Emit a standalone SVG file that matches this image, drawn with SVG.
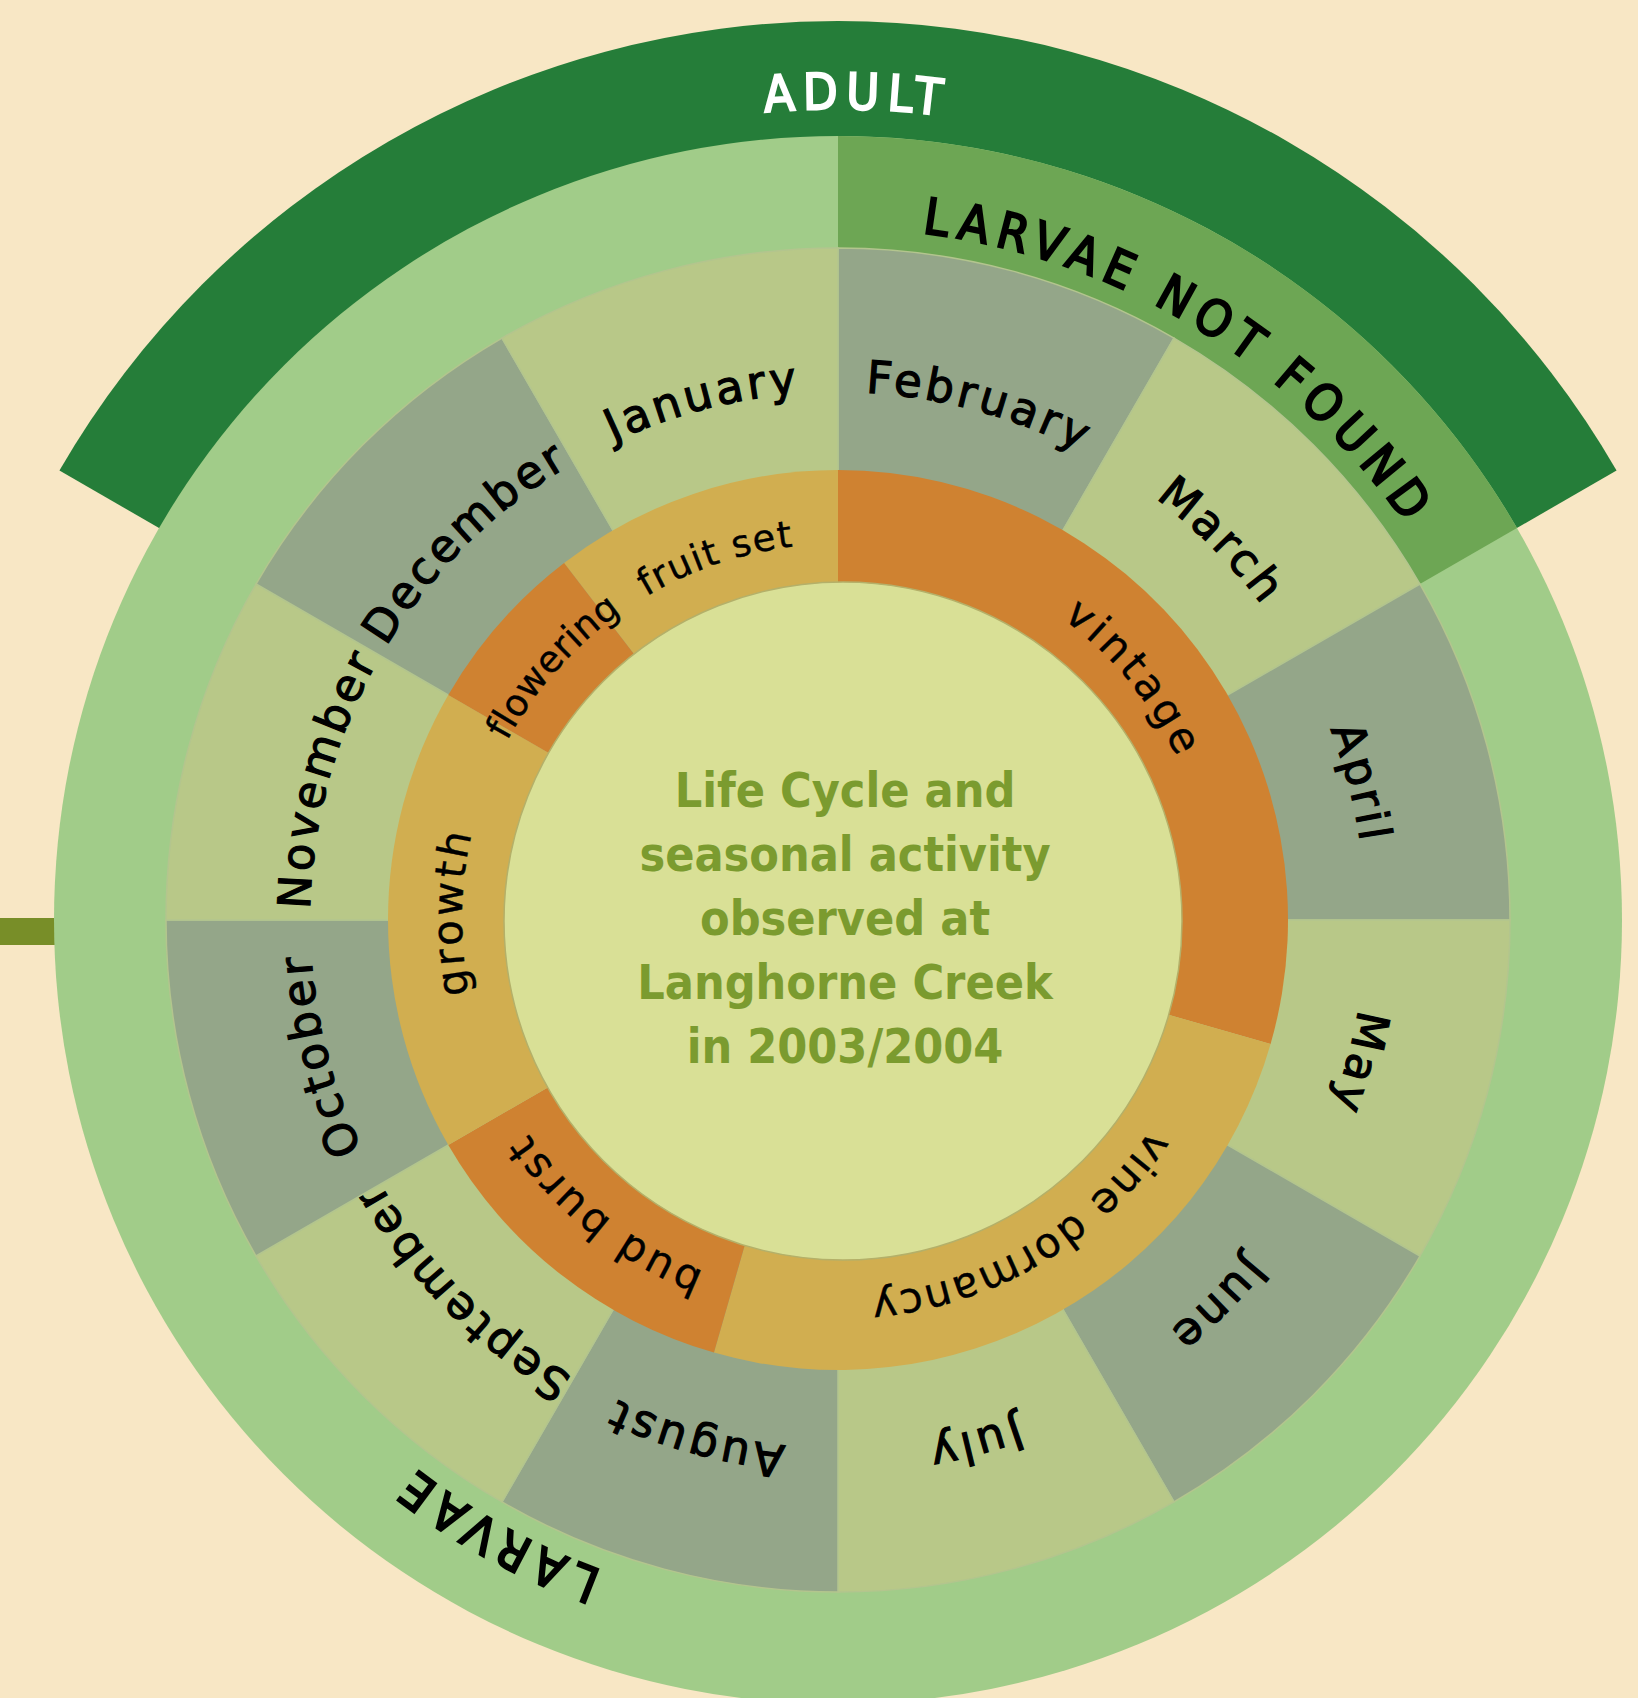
<svg xmlns="http://www.w3.org/2000/svg" xmlns:xlink="http://www.w3.org/1999/xlink" width="1638" height="1698" viewBox="0 0 1638 1698">
  <style>
    .band-label { font-family: "DejaVu Sans Condensed", "DejaVu Sans", sans-serif; font-size: 50px; letter-spacing: 8px; stroke-width: 2.2px; }
    .month { fill: #000; font-family: "DejaVu Sans", Verdana, sans-serif; font-size: 45px; letter-spacing: 3.5px; stroke: #000; stroke-width: 1.2px; }
    .phase { fill: #000; font-family: "DejaVu Sans", Verdana, sans-serif; stroke: #000; stroke-width: 0.4px; }
    .title { fill: #7b9b2f; font-family: "DejaVu Sans Condensed", "DejaVu Sans", sans-serif; font-weight: bold; font-size: 48px; text-anchor: middle; }
    .m-grey { fill: #94a689; stroke: #b3c58e; stroke-width: 1.5px; }
    .m-khaki { fill: #b8c888; stroke: #b3c58e; stroke-width: 1.5px; }
    .p-orange { fill: #cf8231; }
    .p-gold { fill: #d1ae50; }
  </style>
  <defs>
    <!-- clockwise circles (three turns, starting at 12 o'clock) used as text baselines -->
    <path id="ring811" d="M838,109 A811,811 0 1 1 838,1731 A811,811 0 1 1 838,109 A811,811 0 1 1 838,1731 A811,811 0 1 1 838,109 A811,811 0 1 1 838,1731 A811,811 0 1 1 838,109"/>
    <path id="ring692" d="M838,228 A692,692 0 1 1 838,1612 A692,692 0 1 1 838,228 A692,692 0 1 1 838,1612 A692,692 0 1 1 838,228 A692,692 0 1 1 838,1612 A692,692 0 1 1 838,228"/>
    <path id="ring528" d="M838,392 A528,528 0 1 1 838,1448 A528,528 0 1 1 838,392 A528,528 0 1 1 838,1448 A528,528 0 1 1 838,392 A528,528 0 1 1 838,1448 A528,528 0 1 1 838,392"/>
    <path id="ring376" d="M838,544 A376,376 0 1 1 838,1296 A376,376 0 1 1 838,544 A376,376 0 1 1 838,1296 A376,376 0 1 1 838,544 A376,376 0 1 1 838,1296 A376,376 0 1 1 838,544"/>
  </defs>

  <rect x="0" y="0" width="1638" height="1698" fill="#f8e7c5"/>
  <rect id="side-bar" x="0" y="918" width="56" height="27" fill="#788e28"/>

  <!-- adult flight period -->
  <g id="adult">
    <path d="M838,920 L59.44,470.5 A899,899 0 0 1 1616.56,470.5 Z" fill="#257d39"/>
    <text class="band-label" fill="#ffffff" stroke="#ffffff"><textPath xlink:href="#ring811" href="#ring811" startOffset="5113.65" text-anchor="middle">ADULT</textPath></text>
  </g>

  <!-- larval period ring -->
  <g id="larvae">
    <circle cx="838" cy="920" r="784" fill="#a1cc89"/>
    <text class="band-label" fill="#000" stroke="#000"><textPath xlink:href="#ring692" href="#ring692" startOffset="6871.99" text-anchor="middle">LARVAE</textPath></text>
  </g>

  <g id="larvae-not-found">
    <path d="M838,920 L838,136 A784,784 0 0 1 1516.96,528 Z" fill="#6da654"/>
    <text class="band-label" fill="#000" stroke="#000"><textPath xlink:href="#ring692" href="#ring692" startOffset="4725.78" text-anchor="middle">LARVAE NOT FOUND</textPath></text>
  </g>

  <!-- months, 30 degrees each, clockwise from 12 o'clock -->
  <g id="month-february">
    <path class="m-grey" d="M838,920 L838,248 A672,672 0 0 1 1174,338.03 Z"/>
    <text class="month"><textPath xlink:href="#ring528" href="#ring528" startOffset="3458.52" text-anchor="middle">February</textPath></text>
  </g>
  <g id="month-march">
    <path class="m-khaki" d="M838,920 L1174,338.03 A672,672 0 0 1 1419.97,584 Z"/>
    <text class="month"><textPath xlink:href="#ring528" href="#ring528" startOffset="3734.97" text-anchor="middle">March</textPath></text>
  </g>
  <g id="month-april">
    <path class="m-grey" d="M838,920 L1419.97,584 A672,672 0 0 1 1510,920 Z"/>
    <text class="month"><textPath xlink:href="#ring528" href="#ring528" startOffset="4011.43" text-anchor="middle">April</textPath></text>
  </g>
  <g id="month-may">
    <path class="m-khaki" d="M838,920 L1510,920 A672,672 0 0 1 1419.97,1256 Z"/>
    <text class="month"><textPath xlink:href="#ring528" href="#ring528" startOffset="4287.89" text-anchor="middle">May</textPath></text>
  </g>
  <g id="month-june">
    <path class="m-grey" d="M838,920 L1419.97,1256 A672,672 0 0 1 1174,1501.97 Z"/>
    <text class="month"><textPath xlink:href="#ring528" href="#ring528" startOffset="4564.35" text-anchor="middle">June</textPath></text>
  </g>
  <g id="month-july">
    <path class="m-khaki" d="M838,920 L1174,1501.97 A672,672 0 0 1 838,1592 Z"/>
    <text class="month"><textPath xlink:href="#ring528" href="#ring528" startOffset="4840.81" text-anchor="middle">July</textPath></text>
  </g>
  <g id="month-august">
    <path class="m-grey" d="M838,920 L838,1592 A672,672 0 0 1 502,1501.97 Z"/>
    <text class="month"><textPath xlink:href="#ring528" href="#ring528" startOffset="5117.27" text-anchor="middle">August</textPath></text>
  </g>
  <g id="month-september">
    <path class="m-khaki" d="M838,920 L502,1501.97 A672,672 0 0 1 256.03,1256 Z"/>
    <text class="month"><textPath xlink:href="#ring528" href="#ring528" startOffset="5393.73" text-anchor="middle">September</textPath></text>
  </g>
  <g id="month-october">
    <path class="m-grey" d="M838,920 L256.03,1256 A672,672 0 0 1 166,920 Z"/>
    <text class="month"><textPath xlink:href="#ring528" href="#ring528" startOffset="5670.19" text-anchor="middle">October</textPath></text>
  </g>
  <g id="month-november">
    <path class="m-khaki" d="M838,920 L166,920 A672,672 0 0 1 256.03,584 Z"/>
    <text class="month"><textPath xlink:href="#ring528" href="#ring528" startOffset="5946.65" text-anchor="middle">November</textPath></text>
  </g>
  <g id="month-december">
    <path class="m-grey" d="M838,920 L256.03,584 A672,672 0 0 1 502,338.03 Z"/>
    <text class="month"><textPath xlink:href="#ring528" href="#ring528" startOffset="6223.11" text-anchor="middle">December</textPath></text>
  </g>
  <g id="month-january">
    <path class="m-khaki" d="M838,920 L502,338.03 A672,672 0 0 1 838,248 Z"/>
    <text class="month"><textPath xlink:href="#ring528" href="#ring528" startOffset="6499.57" text-anchor="middle">January</textPath></text>
  </g>

  <!-- vine growth stages (flowering last: its label runs onto fruit set) -->
  <g id="stage-fruit-set">
    <path class="p-gold" d="M838,920 L564.06,562.99 A450,450 0 0 1 838,470 Z"/>
    <text class="phase" font-size="37" letter-spacing="1.4"><textPath xlink:href="#ring376" href="#ring376" startOffset="4601.58" text-anchor="middle">fruit set</textPath></text>
  </g>
  <g id="stage-vintage">
    <path class="p-orange" d="M838,920 L838,470 A450,450 0 0 1 1270.57,1044.04 Z"/>
    <text class="phase" font-size="42" letter-spacing="4"><textPath xlink:href="#ring376" href="#ring376" startOffset="2695.19" text-anchor="middle">vintage</textPath></text>
  </g>
  <g id="stage-vine-dormancy">
    <path class="p-gold" d="M838,920 L1270.57,1044.04 A450,450 0 0 1 713.96,1352.57 Z"/>
    <text class="phase" font-size="42" letter-spacing="1.9"><textPath xlink:href="#ring376" href="#ring376" startOffset="3343.17" text-anchor="middle">vine dormancy</textPath></text>
  </g>
  <g id="stage-bud-burst">
    <path class="p-orange" d="M838,920 L713.96,1352.57 A450,450 0 0 1 448.29,1145 Z"/>
    <text class="phase" font-size="42" letter-spacing="3"><textPath xlink:href="#ring376" href="#ring376" startOffset="3794.60" text-anchor="middle">bud burst</textPath></text>
  </g>
  <g id="stage-growth">
    <path class="p-gold" d="M838,920 L448.29,1145 A450,450 0 0 1 448.29,695 Z"/>
    <text class="phase" font-size="42" letter-spacing="3"><textPath xlink:href="#ring376" href="#ring376" startOffset="4141.10" text-anchor="middle">growth</textPath></text>
  </g>
  <g id="stage-flowering">
    <path class="p-orange" d="M838,920 L448.29,695 A450,450 0 0 1 564.06,562.99 Z"/>
    <text class="phase" font-size="37" letter-spacing="0.3"><textPath xlink:href="#ring376" href="#ring376" startOffset="4406.81" text-anchor="middle">flowering</textPath></text>
  </g>

  <!-- title disc -->
  <g id="title">
    <circle cx="843" cy="921" r="339" fill="#d9e096" stroke="#b4b069" stroke-width="1.5"/>
    <text class="title" x="845" y="807">Life Cycle and</text>
    <text class="title" x="845" y="871">seasonal activity</text>
    <text class="title" x="845" y="935">observed at</text>
    <text class="title" x="845" y="999">Langhorne Creek</text>
    <text class="title" x="845" y="1063">in 2003/2004</text>
  </g>
</svg>
